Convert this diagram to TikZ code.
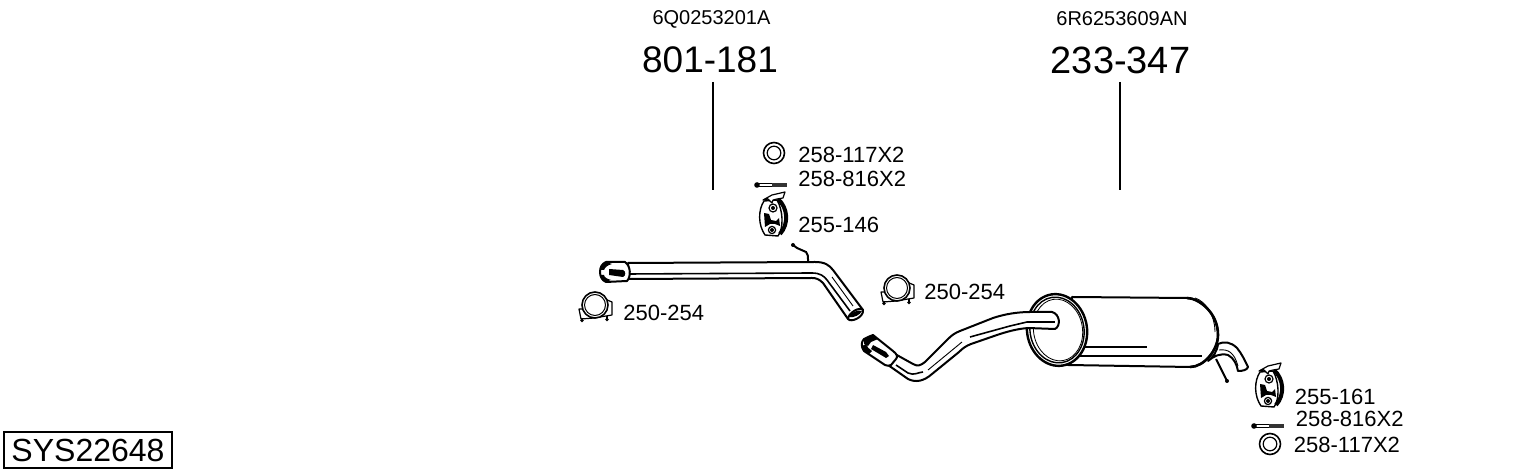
\documentclass[tikz,border=0pt]{standalone}
\usepackage{fontspec}
\setmainfont{Liberation Sans}
\tikzset{
  pipe/.style={draw=black, fill=white, line width=1pt, line join=round},
  thinline/.style={draw=black, line width=0.45pt},
  midline/.style={draw=black, line width=0.8pt},
  partno/.style={anchor=west, inner sep=0pt, font=\fontsize{11}{11}\selectfont},
  bignum/.style={inner sep=0pt, font=\fontsize{19}{19}\selectfont},
  oemno/.style={inner sep=0pt, font=\fontsize{10}{10}\selectfont},
  sysbox/.style={draw, line width=0.6pt, minimum width=84pt, minimum height=18pt, inner sep=0pt, font=\fontsize{16}{16}\selectfont},
  ring/.pic={
    \draw[line width=0.8pt] (0,0) circle (10.5);
    \draw[line width=0.6pt] (0,0) circle (6.8);
  },
  bolt/.pic={
    \fill (2,0) circle (2.8);
    \draw[line width=0.5pt] (4,-1.3) -- (18,-1.3) (4,1.3) -- (18,1.3);
    \fill[black!80] (17,-1.6) rectangle (32,1.6);
  },
  hanger/.pic={
    \draw[pipe, line width=0.7pt] (-5,-15) .. controls (-11,-6) and (-11,9) .. (-4,19) -- (9,20) .. controls (15,12) and (14,-6) .. (8,-16) -- cycle;
    \draw[line width=2pt] (9,-17) .. controls (19,-8) and (20,8) .. (11,18);
    \draw[pipe, line width=0.6pt] (-6,-16) -- (3,-21) -- (16,-24) -- (14,-18) -- (8,-17) -- (4,-16) -- (3,-13) -- (-1,-17) -- cycle;
    \draw[line width=0.6pt] (4,-8) circle (4) (3,14) circle (3.6);
    \fill (4,-8) circle (2);
    \fill (3,14) circle (2);
    \fill (-5,-3) -- (0,-2) -- (2,4) -- (7,5) -- (10,2) -- (11,10) -- (6,8) -- (1,8) -- (-4,11) -- cycle;
  },
  clamp/.pic={
    \draw[pipe, line width=0.6pt] (-14,14) -- (-16,4) -- (-11,4) -- (12,-5) -- (17,-3) -- (17,10) -- (-1,13) -- cycle;
    \draw[pipe, line width=0.8pt] (0,0) circle (13);
    \draw[line width=0.5pt] (0,0) circle (10.5);
    \draw[line width=0.6pt] (-13,13) -- (-13,15) (12,11) -- (12,14);
    \fill (-13,15.5) circle (1.8) (12,14.5) circle (1.8);
  }
}
\begin{document}
\begin{tikzpicture}[x=0.5pt, y=-0.5pt]
\useasboundingbox (0,0) rectangle (1530,474);

\node[oemno] (oemA) at (711.5,19) {6Q0253201A};
\node[oemno] (oemB) at (1122,19) {6R6253609AN};
\node[bignum, font=\fontsize{18.5}{19}\selectfont] (numA) at (710,60) {801-181};
\node[bignum] (numB) at (1120.5,60) {233-347};
\coordinate (topA) at (713,82);
\coordinate (endA) at (713,190);
\coordinate (topB) at (1120,82);
\coordinate (endB) at (1120,190);
\draw[line width=0.6pt] (topA) -- (endA);
\draw[line width=0.6pt] (topB) -- (endB);

\node[sysbox] (sys) at (88,450) {SYS22648};

\pic at (774,153) {ring};
\pic at (755,185) {bolt};
\pic at (769,216) {hanger};
\pic at (595,305) {clamp};
\pic at (897,288) {clamp};
\pic at (1265,387) {hanger};
\pic at (1252,426) {bolt};
\pic at (1270,444) {ring};

\node[partno] (ringA) at (798,155) {258-117X2};
\node[partno] (boltA) at (798,178.5) {258-816X2};
\node[partno] (hangA) at (798,225) {255-146};
\node[partno] (clampA) at (623,313) {250-254};
\node[partno] (clampB) at (924,292) {250-254};
\node[partno] (hangB) at (1294.5,397) {255-161};
\node[partno] (boltB) at (1295.5,419) {258-816X2};
\node[partno] (ringB) at (1293.5,445) {258-117X2};

% front pipe
\draw[line width=1pt, line cap=round] (793,245) -- (797,248) -- (806,252) .. controls (808,255) .. (808,262);
\fill (793,245) circle (2);
\draw[pipe] (628,263) -- (815,262) .. controls (825,262) and (829,265) .. (833,270) -- (863,310) -- (848,319) -- (823,283) .. controls (819,279) and (816,278) .. (812,278) -- (628,279) -- cycle;
\draw[midline] (628,274) -- (812,273) .. controls (820,273) and (824,276) .. (827,280) -- (850,311);
\draw[thinline] (832,277) -- (853,306);
\draw[pipe] (606,262) -- (625,262) .. controls (631,266) and (631,277) .. (627,281) -- (606,282) .. controls (598,279) and (598,265) .. (606,262) -- cycle;
\fill (606,262) .. controls (601,264) and (599,267) .. (600,270) -- (604,270) .. controls (605,267) and (608,265) .. (612,264) -- cycle;
\fill (600,275) .. controls (600,278) and (602,281) .. (606,282) -- (611,280) .. controls (607,279) and (604,277) .. (604,275) -- cycle;
\fill (609,269) -- (623,270) .. controls (626,271) and (626,276) .. (623,277) -- (609,275) -- cycle;
\draw[pipe] (848,319) .. controls (851,323) and (864,317) .. (863,310) .. controls (860,306) and (848,313) .. (848,319) -- cycle;
\fill (849,317) .. controls (850,313) and (858,309) .. (862,311) .. controls (860,315) and (854,318) .. (849,317) -- cycle;

% muffler
\draw[pipe] (1072,297) -- (1187,298) .. controls (1198,298) and (1218,312) .. (1218,335) .. controls (1218,350) and (1204,367) .. (1190,367) -- (1068,365) -- cycle;
\draw[line width=1.3pt] (1187,298) .. controls (1198,298) and (1218,312) .. (1218,335) .. controls (1218,350) and (1204,367) .. (1190,367);
\draw[thinline] (1195,298) .. controls (1205,301) and (1215,315) .. (1215,332);
\draw[midline] (1081,347) -- (1147,347);
\draw[midline] (1080,356) -- (1202,356);

% tail pipe
\draw[pipe] (1218,344) .. controls (1224,341) and (1231,342) .. (1237,348) .. controls (1242,354) and (1245,361) .. (1248,367) .. controls (1247,370) and (1243,371) .. (1238,371) .. controls (1237,365) and (1234,358) .. (1228,355) .. controls (1220,353) and (1214,356) .. (1208,361) .. controls (1213,357) and (1217,352) .. (1218,344) -- cycle;
\draw[thinline] (1219,350) .. controls (1228,349) and (1234,352) .. (1238,366);
\draw[line width=1pt] (1216,359) -- (1222,371) -- (1227,381);
\fill (1227,381) circle (2);

% rim of the muffler
\draw[pipe, line width=1.2pt] (1057,330) ellipse [x radius=30, y radius=36, rotate=9];
\draw[line width=0.7pt] (1057,330) ellipse [x radius=27, y radius=33, rotate=9];
\draw[line width=0.4pt] (1058,330) ellipse [x radius=24.5, y radius=31, rotate=9];

% rear pipe
\draw[pipe] (895,354) -- (913,364) .. controls (918,367) and (921,365) .. (925,362) -- (948,339) .. controls (952,335) and (955,333) .. (960,331) -- (993,318) .. controls (1005,314) and (1018,312) .. (1030,312) -- (1052,312) .. controls (1060,314) and (1061,326) .. (1055,329) -- (1028,328) .. controls (1016,329) and (1006,332) .. (997,335) -- (971,344) .. controls (966,346) and (963,348) .. (959,352) -- (932,374) .. controls (924,381) and (916,383) .. (908,379) -- (888,365) -- cycle;
\draw[midline] (1027,322) -- (1055,322);
\draw[midline] (970,337) -- (1010,326) -- (1027,322);
\draw[thinline] (928,370) -- (945,356) -- (962,342);
\draw[midline] (896,365) -- (908,373) .. controls (914,376) and (919,372) .. (923,372);
\draw[pipe] (868,337) -- (873,335) -- (893,351) .. controls (897,354) and (898,357) .. (896,359) -- (891,365) .. controls (889,366) and (887,366) .. (885,365) -- (864,351) .. controls (861,347) and (861,342) .. (864,339) -- cycle;
\fill (868,337) -- (873,335) -- (878,339) -- (871,342) -- (868,346) -- (864,344) -- (864,339) -- cycle;
\fill (862,346) -- (866,344) .. controls (867,347) and (869,349) .. (872,351) -- (869,354) -- (864,351) -- cycle;
\fill (873,345) -- (886,352) -- (889,356) -- (886,358) -- (871,349) -- cycle;
\end{tikzpicture}
\end{document}
